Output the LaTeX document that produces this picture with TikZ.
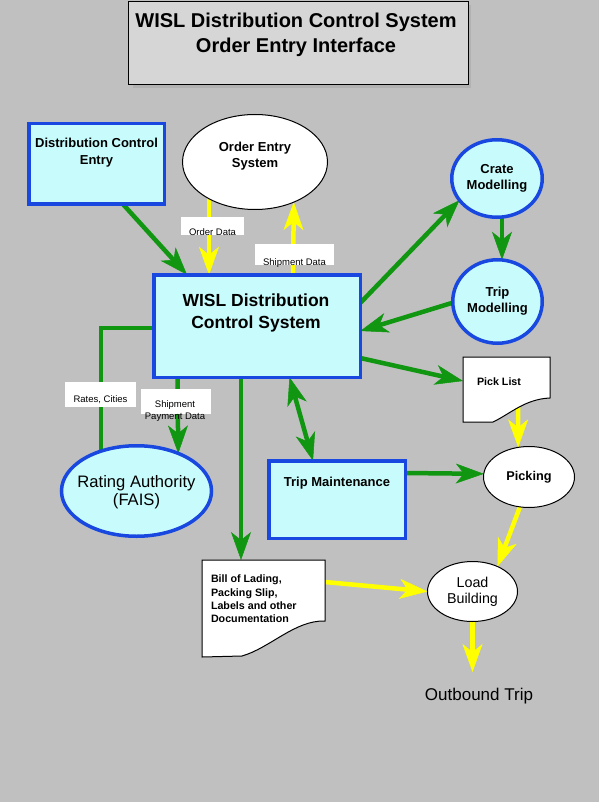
\documentclass[tikz,border=0pt]{standalone}
\usepackage{fontspec}
\setmainfont{Liberation Sans}
\usetikzlibrary{arrows.meta,shapes.geometric,calc,backgrounds}
\definecolor{bggray}{RGB}{192,192,192}
\definecolor{titlegray}{RGB}{214,214,214}
\definecolor{shadowgray}{RGB}{178,178,178}
\definecolor{boxblue}{RGB}{24,72,224}
\definecolor{boxcyan}{RGB}{200,252,252}
\definecolor{arrgreen}{RGB}{16,150,16}
\definecolor{arryellow}{RGB}{255,255,0}
\begin{document}
\begin{tikzpicture}[x=1pt,y=-1pt,
  >={Stealth[length=28pt,width=20pt,inset=8pt,line width=0.5pt]},
  cbox/.style={rectangle,draw=boxblue,line width=3.5pt,fill=boxcyan,inner sep=0pt,outer sep=0pt},
  cell/.style={ellipse,draw=boxblue,line width=3.5pt,fill=boxcyan,inner sep=0pt,outer sep=0pt,align=center},
  well/.style={ellipse,draw=black,line width=1pt,fill=white,inner sep=0pt,outer sep=0pt,align=center},
  docnode/.style={rectangle,draw=none,inner sep=0pt,outer sep=0pt},
  docshape/.style={draw=black,line width=1pt,fill=white},
  txt/.style={inner sep=0pt,outer sep=0pt,align=center},
  tag/.style={fill=white,inner sep=0pt,outer sep=0pt,font=\fontsize{9.5}{12}\selectfont},
  gline/.style={draw=arrgreen,line width=4.5pt},
  garrow/.style={gline,->},
  yarrow/.style={draw=arryellow,line width=4.5pt,->},
]
\useasboundingbox (0,0) rectangle (599,802);

% title
\fill[shadowgray] (133,5) rectangle (471,88);
\node[draw=black,line width=1pt,fill=titlegray,minimum width=340pt,minimum height=83pt,
      anchor=north west,inner sep=0pt,outer sep=0pt] (titlebox) at (128,2) {};
\node[txt,font=\fontsize{20}{25}\selectfont\bfseries] (titletext) at (296,35.3)
  {WISL Distribution Control System\\Order Entry Interface};

% boxes
\node[cbox,minimum width=135.5pt,minimum height=80.5pt] (dce) at (96.5,164) {};
\node[txt,font=\fontsize{13}{17}\selectfont\bfseries] (dcetext) at (96.5,152.8) {Distribution Control\\Entry};

\node[cbox,minimum width=206.5pt,minimum height=102.5pt] (main) at (257,326) {};
\node[txt,font=\fontsize{17.5}{22}\selectfont\bfseries] (maintext) at (256,312.7) {WISL Distribution\\Control System};

\node[cbox,minimum width=136.5pt,minimum height=77.5pt] (tm) at (337,499.5) {};
\node[txt,font=\fontsize{13}{16}\selectfont\bfseries] (tmtext) at (337,483.3) {Trip Maintenance};

% ellipses
\node[well,minimum width=145pt,minimum height=95pt] (oes) at (255,162) {};
\node[txt,font=\fontsize{13}{16}\selectfont\bfseries] (oestext) at (255,156.3) {Order Entry\\System};

\node[cell,minimum width=90.5pt,minimum height=77.5pt,font=\fontsize{13}{16}\selectfont\bfseries] (crate) at (497,178.5) {Crate\\Modelling};
\node[cell,minimum width=89.5pt,minimum height=83.5pt,font=\fontsize{13}{16}\selectfont\bfseries] (tripm) at (497.5,301.5) {Trip\\Modelling};
\node[cell,minimum width=150pt,minimum height=90.5pt] (rating) at (136.5,491) {};
\node[txt,font=\fontsize{16.6}{18}\selectfont] (ratingtext) at (136.5,491.7) {Rating Authority\\(FAIS)};
\node[well,minimum width=91pt,minimum height=61pt,font=\fontsize{12.7}{16}\selectfont\bfseries] (picking) at (529,477) {Picking};
\node[well,minimum width=90pt,minimum height=60pt,font=\fontsize{14.3}{16}\selectfont] (load) at (472.5,591.5) {Load\\Building};

% documents
\node[docnode,minimum width=87pt,minimum height=65pt] (pick) at (506.5,389.5) {};
\draw[docshape] (pick.north west) -- (pick.north east) -- ([yshift=24pt]pick.south east)
  .. controls ($(pick.south west)+(62,-23)$) and ($(pick.south west)+(47,-8)$) .. ($(pick.south west)+(30,0)$)
  -- (pick.south west) -- cycle;
\node[txt,anchor=west,font=\fontsize{10.7}{13}\selectfont\bfseries] (picktext) at (477,382) {Pick List};

\node[docnode,minimum width=123pt,minimum height=97pt] (bol) at (263.5,608.5) {};
\draw[docshape] (bol.north west) -- (bol.north east) -- ([yshift=36pt]bol.south east)
  .. controls ($(bol.south west)+(93,-37)$) and ($(bol.south west)+(68,-9)$) .. ($(bol.south west)+(40,-1)$)
  -- (bol.south west) -- cycle;
\node[txt,anchor=north west,align=left,font=\fontsize{10.7}{13.3}\selectfont\bfseries] (boltext) at (211,575.1)
  {Bill of Lading,\\Packing Slip,\\Labels and other\\Documentation};

\node[txt,font=\fontsize{17}{20}\selectfont] (outb) at (479,695.7) {Outbound Trip};
\coordinate (outtip) at (472.5,672);

% connector labels
\node[tag,minimum width=63pt,text height=18pt,text depth=0pt,anchor=south west] (odlab) at (181,235) {Order Data};
\node[tag,minimum width=79pt,text height=21pt,text depth=0pt,anchor=south west] (sdlab) at (255,265) {Shipment Data};
\node[tag,minimum width=71pt,text height=20pt,text depth=5pt,anchor=south west] (rclab) at (65,407) {Rates, Cities};
\node[fill=white,minimum width=70pt,minimum height=25pt,anchor=north west,inner sep=0pt,outer sep=0pt] (spbox) at (141,389) {};
\node[txt,font=\fontsize{9.5}{12}\selectfont] (sptext) at (175,411.2) {Shipment\\Payment Data};

% connectors
\begin{pgfonlayer}{background}
\fill[bggray] (0,0) rectangle (599,802);
\draw[garrow] ([xshift=26.5pt]dce.south) -- ([xshift=-70pt]main.north);
\draw[yarrow] ([xshift=-46pt,yshift=20pt]oes.south) -- ([xshift=-48pt]main.north);
\draw[yarrow] ([xshift=36pt,yshift=-10pt]main.north) -- (oes.-46.8);
\draw[garrow] ([yshift=23pt]main.east) -- (crate.210.5);
\draw[garrow] ([xshift=5pt]crate.center) -- ([xshift=4.5pt]tripm.north);
\draw[garrow] ([xshift=-27.5pt,yshift=4.1pt]tripm.center) -- ([yshift=-5pt]main.east);
\draw[garrow] ([yshift=-32pt]main.east) -- ([yshift=8.5pt]pick.west);
\draw[gline,<->] ([xshift=32.5pt]main.south) -- ([xshift=-24pt]tm.north);
\draw[garrow] ([xshift=-16pt]main.south) -- ([xshift=-22.5pt]bol.north);
\draw[gline] ([yshift=-2pt]main.west) -| ([xshift=-35.5pt]rating.center);
\draw[garrow] ([xshift=-79.5pt]main.south) -- (rating.42.6);
\draw[garrow] ([yshift=26.5pt]tm.east) -- (picking.176);
\draw[yarrow] ([xshift=11.5pt]pick.center) -- (picking.110);
\draw[yarrow] ([xshift=-2.7pt,yshift=-13pt]picking.center) -- (load.45);
\draw[yarrow] ([yshift=26.5pt]bol.east) -- (load.west);
\draw[yarrow] (load.center) -- (outtip);
\end{pgfonlayer}
\end{tikzpicture}
\end{document}
